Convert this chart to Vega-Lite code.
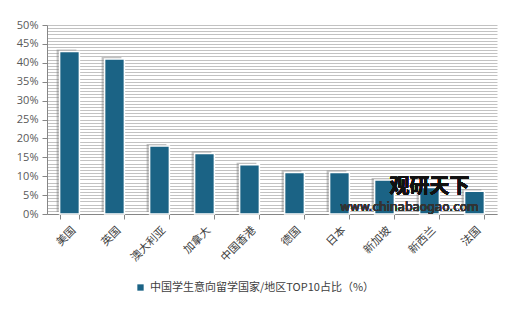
{
  "$schema": "https://vega.github.io/schema/vega-lite/v6.json",
  "width": 450,
  "height": 189,
  "autosize": {"type": "none"},
  "padding": {"left": 47, "top": 25, "right": 23, "bottom": 98},
  "background": "white",
  "config": {
    "view": {"stroke": null},
    "font": "Noto Sans CJK SC",
    "axis": {"labelFont": "Noto Sans CJK SC", "labelColor": "#404040", "domainColor": "#868686", "tickColor": "#868686"}
  },
  "data": {
    "values": [
      {"region": "美国", "pct": 43},
      {"region": "英国", "pct": 41},
      {"region": "澳大利亚", "pct": 18},
      {"region": "加拿大", "pct": 16},
      {"region": "中国香港", "pct": 13},
      {"region": "德国", "pct": 11},
      {"region": "日本", "pct": 11},
      {"region": "新加坡", "pct": 9},
      {"region": "新西兰", "pct": 7},
      {"region": "法国", "pct": 6}
    ]
  },
  "encoding": {
    "x": {
      "field": "region", "type": "nominal", "sort": null,
      "scale": {"paddingInner": 0.56, "paddingOuter": 0.28},
      "axis": {"title": null, "labelAngle": -45, "labelFontSize": 11, "tickBand": "extent", "tickSize": 5, "labelPadding": 5, "domainWidth": 1}
    },
    "y": {
      "field": "pct", "type": "quantitative",
      "scale": {"domain": [0, 50], "nice": false},
      "axis": {
        "title": null,
        "values": [0, 0.8333, 1.6667, 2.5, 3.3333, 4.1667, 5, 5.8333, 6.6667, 7.5, 8.3333, 9.1667, 10, 10.8333, 11.6667, 12.5, 13.3333, 14.1667, 15, 15.8333, 16.6667, 17.5, 18.3333, 19.1667, 20, 20.8333, 21.6667, 22.5, 23.3333, 24.1667, 25, 25.8333, 26.6667, 27.5, 28.3333, 29.1667, 30, 30.8333, 31.6667, 32.5, 33.3333, 34.1667, 35, 35.8333, 36.6667, 37.5, 38.3333, 39.1667, 40, 40.8333, 41.6667, 42.5, 43.3333, 44.1667, 45, 45.8333, 46.6667, 47.5, 48.3333, 49.1667, 50],
        "labelExpr": "datum.value % 5 === 0 ? datum.value + '%' : ''",
        "labelFontSize": 11,
        "labelFont": "Open Sans",
        "labelColor": "#595959",
        "tickOpacity": {"condition": {"test": "datum.value % 5 === 0", "value": 1}, "value": 0},
        "tickSize": 5,
        "grid": true,
        "gridColor": "#c2c2c2",
        "gridWidth": 1,
        "labelPadding": 4
      }
    }
  },
  "layer": [
    {
      "mark": {"type": "bar", "color": "#7a7a7a", "opacity": 0.45, "xOffset": -3, "yOffset": -2}
    },
    {
      "mark": {"type": "bar", "stroke": "white", "strokeWidth": 1.5},
      "encoding": {
        "color": {
          "datum": "中国学生意向留学国家/地区TOP10占比（%）",
          "scale": {"range": ["#1b6385"]},
          "legend": {
            "title": null, "orient": "none", "legendX": 88, "legendY": 257,
            "symbolType": "square", "symbolSize": 40, "symbolStrokeWidth": 0,
            "labelFontSize": 11, "labelColor": "#404040", "labelFont": "Noto Sans CJK SC", "labelLimit": 400
          }
        }
      }
    },
    {
      "mark": {"type": "text", "fontSize": 20, "fontWeight": "bold", "color": "#111111", "font": "Noto Sans CJK SC"},
      "encoding": {
        "x": {"datum": "新西兰", "type": "nominal"},
        "y": {"datum": 7.1, "type": "quantitative"},
        "text": {"value": "观研天下"}
      }
    },
    {
      "mark": {"type": "text", "fontSize": 12, "color": "#333333", "font": "DejaVu Sans", "dx": -20},
      "encoding": {
        "x": {"datum": "新西兰", "type": "nominal"},
        "y": {"datum": 1.8, "type": "quantitative"},
        "text": {"value": "www.chinabaogao.com"}
      }
    }
  ]
}
